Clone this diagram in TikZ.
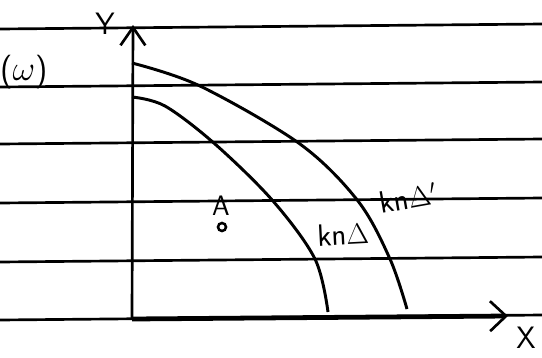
\documentclass[tikz,border=0pt]{standalone}
\usetikzlibrary{arrows.meta}
\begin{document}
\begin{tikzpicture}[x=0.025cm,y=-0.025cm,
  ruled/.style={line width=1.9pt},
  curve/.style={line width=2.1pt},
  axis/.style={line width=1.9pt},
  lbl/.style={font=\sffamily\fontsize{22}{24}\selectfont,inner sep=0pt}]
\useasboundingbox (0,0) rectangle (542,357);
\foreach \y in {29,87,144,203,262,320}
  \draw[ruled] (0,\y) -- (542,\y-5);
\coordinate (O) at (132,319);
\coordinate (ytip) at (133,25);
\coordinate (xtip) at (508,316);
\draw[axis,-{Straight Barb[length=0.45cm,width=0.62cm]}] (O) -- (ytip);
\draw[line width=3.4pt,-{Straight Barb[length=0.4cm,width=0.75cm,line width=1.9pt]}] 
  (O) -- (xtip);
\draw[curve] plot[smooth,tension=0.55] coordinates 
  {(132,63) (200,86) (300,144) (358,201) (390,259) (407,309)};
\draw[curve] plot[smooth,tension=0.55] coordinates 
  {(132,97) (165,106) (215,144) (273,201) (315,259) (328,312)};
\node[lbl,font=\sffamily\fontsize{22}{24}\selectfont] (ylab) at (105,24) {Y};
\node[lbl,font=\sffamily\fontsize{22}{24}\selectfont] (xlab) at (526,338) {X};
\node[lbl,font=\sffamily\fontsize{24}{26}\selectfont] (wlab) at (24,72) {($\omega$)};
\node[lbl,font=\sffamily\fontsize{20}{22}\selectfont] (alab) at (221,206) {A};
\node[circle,draw,line width=1.8pt,minimum size=0.2cm,inner sep=0pt] (apt) at (222,227) {};
\node[lbl,rotate=3] (kn) at (343,234) {kn$\Delta$};
\node[lbl,rotate=10] (knp) at (408,198) {kn$\Delta'$};
\end{tikzpicture}
\end{document}
